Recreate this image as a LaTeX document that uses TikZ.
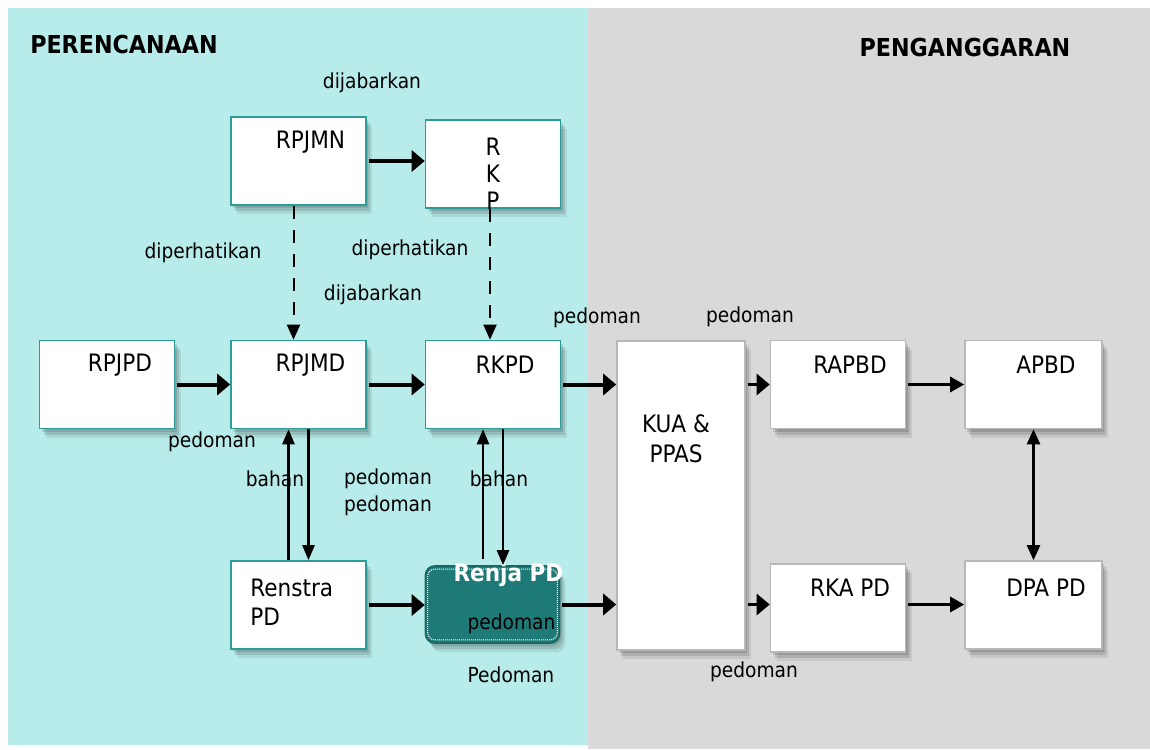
\documentclass[tikz,border=0pt]{standalone}
\usepackage{fontspec}
\setmainfont{DejaVu Sans Condensed}
\usetikzlibrary{arrows.meta,shadows}

\definecolor{plancyan}{HTML}{B8ECEA}
\definecolor{budgetgray}{HTML}{D9D9D9}
\definecolor{boxteal}{HTML}{2E9C96}
\definecolor{renjateal}{HTML}{1E7A77}
\definecolor{boxgray}{HTML}{B8B8B8}

\tikzset{
  soft/.style={
    drop shadow={shadow xshift=2pt, shadow yshift=-3pt, opacity=0.12, fill=black},
    drop shadow={shadow xshift=4pt, shadow yshift=-6pt, opacity=0.12, fill=black},
    drop shadow={shadow xshift=6pt, shadow yshift=-9pt, opacity=0.08, fill=black}},
  box/.style={draw=boxteal, line width=1.6pt, fill=white, inner sep=0pt,
    minimum width=135pt, minimum height=88pt, soft},
  gbox/.style={box, draw=boxgray},
  boxtxt/.style={font=\fontsize{24}{27}\selectfont, inner sep=0pt, align=center},
  lbl/.style={font=\fontsize{20.7}{24}\selectfont, inner sep=0pt},
  head/.style={font=\bfseries\fontsize{24.7}{28}\selectfont, inner sep=0pt},
  fat/.style={line width=4pt, -{Triangle[length=13pt,width=21pt]}, shorten <=2pt},
  midarrow/.style={line width=3pt, -{Triangle[length=14pt,width=15pt]}, shorten <=2pt},
  vline/.style={line width=2.5pt, -{Triangle[length=15pt,width=12pt]}},
  dashline/.style={line width=2pt, dash pattern=on 13pt off 11pt, -{Triangle[length=15pt,width=13pt]}}
}

\begin{document}
\begin{tikzpicture}[x=1pt, y=-1pt]

  \useasboundingbox (0,0) rectangle (1150,749);
  \fill[budgetgray] (588,8) rectangle (1150,749);
  \fill[plancyan] (8,8) rectangle (588,745);

  \node[head] (plan) at (124,45) {PERENCANAAN};
  \node[head] (budget) at (965,48) {PENGANGGARAN};

  % planning boxes
  \node[box] (rpjmn) at (298.5,161) {};
  \node[box] (rkp) at (493,164) {};
  \node[box] (rpjpd) at (107,384.5) {};
  \node[box] (rpjmd) at (298.5,384.5) {};
  \node[box] (rkpd) at (493,384.5) {};
  \node[box] (renstra) at (298.5,605) {};
  \node[box, fill=renjateal, draw=renjateal!85!black, rounded corners=9pt,
    minimum width=134pt, minimum height=77pt] (renja) at (492.5,604.5) {};
  \draw[white, densely dotted, line width=1pt, rounded corners=7pt]
    ([shift={(3pt,-4pt)}]renja.north west) rectangle ([shift={(-3pt,4pt)}]renja.south east);

  % budgeting boxes
  \node[gbox, minimum width=128pt, minimum height=309pt] (kua) at (681,495.5) {};
  \node[gbox] (rapbd) at (838,384.5) {};
  \node[gbox, minimum width=137pt] (apbd) at (1033.5,384.5) {};
  \node[gbox] (rka) at (838,608) {};
  \node[gbox, minimum width=137pt] (dpa) at (1033.5,605) {};

  \node[boxtxt] (rpjmntxt) at ([xshift=12pt,yshift=-26pt]rpjmn.north) {RPJMN};
  \node[boxtxt] (rkptxt) at ([yshift=-10pt]rkp.center) {R\\K\\P};
  \node[boxtxt] (rpjpdtxt) at ([xshift=13pt,yshift=-25pt]rpjpd.north) {RPJPD};
  \node[boxtxt] (rpjmdtxt) at ([xshift=12pt,yshift=-25pt]rpjmd.north) {RPJMD};
  \node[boxtxt] (rkpdtxt) at ([xshift=12pt,yshift=-25pt]rkpd.north) {RKPD};
  \node[boxtxt, anchor=west, align=left, font=\fontsize{24}{29}\selectfont]
    (renstratxt) at ([xshift=20pt,yshift=2.5pt]renstra.west) {Renstra\\PD};
  \node[boxtxt, white, font=\bfseries\fontsize{24}{27}\selectfont]
    (renjatxt) at ([xshift=16pt,yshift=-10pt]renja.north) {Renja PD};
  \node[lbl] (renjaped) at ([xshift=19pt,yshift=-19pt]renja.center) {pedoman};
  \node[boxtxt, font=\fontsize{24}{30}\selectfont]
    (kuatxt) at ([xshift=-5pt,yshift=-99pt]kua.north) {KUA \&\\PPAS};
  \node[boxtxt] (rapbdtxt) at ([xshift=12pt,yshift=-25pt]rapbd.north) {RAPBD};
  \node[boxtxt] (apbdtxt) at ([xshift=12.5pt,yshift=-25pt]apbd.north) {APBD};
  \node[boxtxt] (rkatxt) at ([xshift=12pt,yshift=-25pt]rka.north) {RKA PD};
  \node[boxtxt] (dpatxt) at ([xshift=12.5pt,yshift=-28pt]dpa.north) {DPA PD};

  % connectors
  \draw[fat] (rpjmn.east) -- (rpjmn.east -| rkp.west);
  \draw[dashline] ([xshift=-5pt]rpjmn.south) -- ([xshift=-5pt]rpjmd.north);
  \draw[dashline] ([xshift=-3pt]rkp.south) -- ([xshift=-3pt]rkpd.north);
  \draw[fat] (rpjpd) -- (rpjmd);
  \draw[fat] (rpjmd) -- (rkpd);
  \draw[fat] (rkpd.east) -- (rkpd.east -| kua.west);
  \draw[fat, line width=3pt] (rapbd.west -| kua.east) -- (rapbd.west);
  \draw[midarrow] (rapbd) -- (apbd);
  \draw[vline, {Triangle[length=15pt,width=13pt]}-{Triangle[length=15pt,width=13pt]}]
    (apbd.south) -- (dpa.north);

  \draw[vline] ([xshift=-10pt]renstra.north) -- ([xshift=-10pt]rpjmd.south);
  \draw[vline] ([xshift=10pt]rpjmd.south) -- ([xshift=10pt]renstra.north);
  \draw[vline] ([xshift=-10pt,yshift=6pt]rkpd.south |- renja.north) -- ([xshift=-10pt]rkpd.south);
  \draw[vline] ([xshift=10pt]rkpd.south) -- ([xshift=10pt]rkpd.south |- renja.north);

  \draw[fat] (renstra.east) -- (renstra.east -| renja.west);
  \draw[fat] (renja.east) -- (renja.east -| kua.west);
  \draw[fat, line width=3pt] (kua.east |- renja.east) -- (rka.west |- renja.east);
  \draw[midarrow] (rka.east |- renja.east) -- (dpa.west |- renja.east);

  % labels
  \node[lbl] (dijab1) at (372,83) {dijabarkan};
  \node[lbl] (diper1) at (203,253) {diperhatikan};
  \node[lbl] (diper2) at (410,250) {diperhatikan};
  \node[lbl] (dijab2) at (373,295) {dijabarkan};
  \node[lbl] (ped1) at (597,318) {pedoman};
  \node[lbl] (ped2) at (750,317) {pedoman};
  \node[lbl] (ped3) at (212,442) {pedoman};
  \node[lbl] (bahan1) at (275,479) {bahan};
  \node[lbl] (ped4) at (388,479) {pedoman};
  \node[lbl] (ped5) at (388,506) {pedoman};
  \node[lbl] (bahan2) at (499,479) {bahan};
  \node[lbl] (ped6) at (511,675) {Pedoman};
  \node[lbl] (ped7) at (754,672) {pedoman};

\end{tikzpicture}
\end{document}
